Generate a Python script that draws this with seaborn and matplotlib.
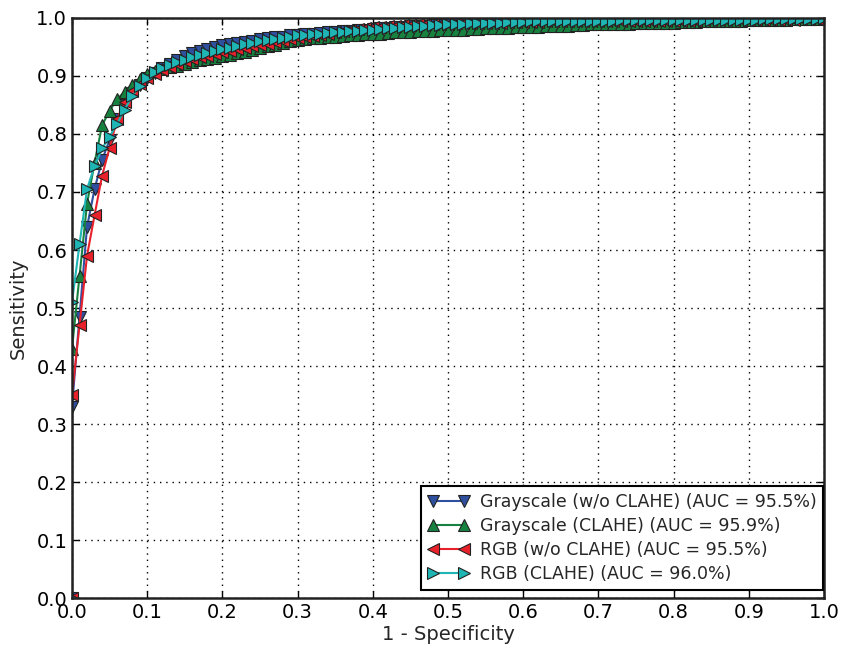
import matplotlib
matplotlib.use("Agg")
import matplotlib.pyplot as plt
import seaborn as sns
import numpy as np

# False-positive-rate grid: origin point, then 0.00 .. 1.00 in steps of 0.01
FPR = [0.0] + [round(i * 0.01, 2) for i in range(101)]

gray_wo = [0.0,
    0.33, 0.485, 0.64, 0.705, 0.755, 0.79, 0.825, 0.85, 0.87, 0.885,
    0.897, 0.906, 0.914, 0.921, 0.928, 0.934, 0.939, 0.943, 0.947, 0.950,
    0.953, 0.955, 0.957, 0.959, 0.961, 0.963, 0.965, 0.967, 0.968, 0.970,
    0.971, 0.972, 0.973, 0.974, 0.975, 0.976, 0.977, 0.978, 0.979, 0.980,
    0.981, 0.982, 0.983, 0.984, 0.985, 0.986, 0.987, 0.987, 0.988, 0.988,
    0.989, 0.989, 0.990, 0.990, 0.991, 0.991, 0.991, 0.992, 0.992, 0.992,
    0.993, 0.993, 0.993, 0.993, 0.994, 0.994, 0.994, 0.994, 0.995, 0.995,
    0.995, 0.995, 0.995, 0.996, 0.996, 0.996, 0.996, 0.996, 0.996, 0.997,
    0.997, 0.997, 0.997, 0.997, 0.997, 0.998, 0.998, 0.998, 0.998, 0.998,
    0.998, 0.998, 0.998, 0.999, 0.999, 0.999, 0.999, 0.999, 0.999, 0.999, 1.0]

gray_clahe = [0.0,
    0.43, 0.555, 0.68, 0.75, 0.815, 0.84, 0.86, 0.873, 0.885, 0.895,
    0.903, 0.908, 0.912, 0.915, 0.918, 0.921, 0.924, 0.927, 0.929, 0.931,
    0.934, 0.936, 0.939, 0.942, 0.945, 0.948, 0.951, 0.954, 0.957, 0.960,
    0.962, 0.964, 0.965, 0.966, 0.967, 0.968, 0.969, 0.970, 0.971, 0.972,
    0.972, 0.973, 0.974, 0.975, 0.975, 0.976, 0.977, 0.977, 0.978, 0.979,
    0.979, 0.980, 0.980, 0.981, 0.981, 0.982, 0.982, 0.983, 0.983, 0.984,
    0.984, 0.985, 0.985, 0.986, 0.986, 0.987, 0.987, 0.988, 0.988, 0.989,
    0.989, 0.989, 0.990, 0.990, 0.990, 0.991, 0.991, 0.991, 0.992, 0.992,
    0.992, 0.993, 0.993, 0.993, 0.994, 0.994, 0.994, 0.995, 0.995, 0.995,
    0.996, 0.996, 0.996, 0.997, 0.997, 0.997, 0.998, 0.998, 0.999, 0.999, 1.0]

rgb_wo = [0.0,
    0.35, 0.47, 0.59, 0.66, 0.728, 0.776, 0.825, 0.855, 0.874, 0.887,
    0.897, 0.904, 0.910, 0.916, 0.921, 0.925, 0.929, 0.932, 0.935, 0.938,
    0.941, 0.943, 0.946, 0.948, 0.951, 0.953, 0.956, 0.958, 0.961, 0.963,
    0.965, 0.967, 0.969, 0.971, 0.973, 0.975, 0.977, 0.979, 0.981, 0.983,
    0.984, 0.985, 0.986, 0.987, 0.988, 0.988, 0.989, 0.989, 0.990, 0.990,
    0.990, 0.991, 0.991, 0.991, 0.992, 0.992, 0.992, 0.992, 0.993, 0.993,
    0.993, 0.993, 0.993, 0.994, 0.994, 0.994, 0.994, 0.994, 0.994, 0.994,
    0.994, 0.994, 0.994, 0.995, 0.995, 0.995, 0.995, 0.995, 0.995, 0.995,
    0.995, 0.995, 0.995, 0.995, 0.996, 0.996, 0.996, 0.996, 0.996, 0.996,
    0.996, 0.996, 0.996, 0.996, 0.997, 0.997, 0.997, 0.998, 0.998, 0.999, 1.0]

rgb_clahe = [0.0,
    0.51, 0.61, 0.705, 0.745, 0.775, 0.795, 0.818, 0.842, 0.865, 0.883,
    0.897, 0.907, 0.914, 0.919, 0.924, 0.928, 0.932, 0.936, 0.940, 0.943,
    0.946, 0.949, 0.952, 0.955, 0.957, 0.960, 0.962, 0.964, 0.966, 0.968,
    0.970, 0.971, 0.972, 0.973, 0.974, 0.975, 0.976, 0.977, 0.978, 0.979,
    0.980, 0.981, 0.982, 0.983, 0.984, 0.985, 0.986, 0.987, 0.988, 0.988,
    0.989, 0.990, 0.990, 0.991, 0.991, 0.992, 0.992, 0.992, 0.993, 0.993,
    0.993, 0.994, 0.994, 0.994, 0.994, 0.994, 0.995, 0.995, 0.995, 0.995,
    0.995, 0.995, 0.995, 0.996, 0.996, 0.996, 0.996, 0.996, 0.996, 0.996,
    0.996, 0.996, 0.997, 0.997, 0.997, 0.997, 0.997, 0.997, 0.997, 0.997,
    0.997, 0.997, 0.998, 0.998, 0.998, 0.998, 0.998, 0.999, 0.999, 0.999, 1.0]

labels = ["Grayscale (w/o CLAHE) (AUC = 95.5%)",
          "Grayscale (CLAHE) (AUC = 95.9%)",
          "RGB (w/o CLAHE) (AUC = 95.5%)",
          "RGB (CLAHE) (AUC = 96.0%)"]
series = [gray_wo, gray_clahe, rgb_wo, rgb_clahe]
colors = ["#2f4f9f", "#17823f", "#e8202a", "#1fb5b5"]
markers = ["v", "^", "<", ">"]

ticks = [0.0, 0.1, 0.2, 0.3, 0.4, 0.5, 0.6, 0.7, 0.8, 0.9, 1.0]
tick_labels = ["0.0", "0.1", "0.2", "0.3", "0.4", "0.5", "0.6", "0.7", "0.8", "0.9", "1.0"]

sns.set_style("white")
plt.rcParams['font.family'] = ['DejaVu Sans']

fig = plt.figure(figsize=(8.43, 6.47), dpi=100)
ax = fig.add_axes([0.0854, 0.0757, 0.8921, 0.8965])

for ys, lab, c, m in zip(series, labels, colors, markers):
    n = min(len(FPR), len(ys))
    sns.lineplot(x=FPR[:n], y=ys[:n], ax=ax, estimator=None, sort=False,
                 color=c, marker=m, markersize=8, markeredgecolor="#222222",
                 markeredgewidth=0.8, linewidth=1.5, label=lab)

ax.set_xlim(0, 1)
ax.set_ylim(0, 1)
ax.set_xticks(ticks)
ax.set_xticklabels(tick_labels)
ax.set_yticks(ticks)
ax.set_yticklabels(tick_labels)
ax.grid(True, linestyle=(0, (1, 3.5)), color="black", linewidth=1.0)
ax.tick_params(direction="in", length=5, width=1, labelsize=14,
               top=True, right=True, bottom=True, left=True, colors="black")
for s in ax.spines.values():
    s.set_color("#222222")
    s.set_linewidth(1.8)
ax.set_xlabel("1 - Specificity", fontsize=14, labelpad=2)
ax.set_ylabel("Sensitivity", fontsize=14, labelpad=6)

leg = ax.legend(loc="lower right", bbox_to_anchor=(0.999, 0.014),
                fontsize=12.5, numpoints=2, handlelength=2.4,
                fancybox=False, framealpha=1, edgecolor="black",
                borderpad=0.4, labelspacing=0.35, handletextpad=0.6,
                borderaxespad=0.0)
leg.get_frame().set_linewidth(1.5)

fig.savefig("out.png", dpi=100)
